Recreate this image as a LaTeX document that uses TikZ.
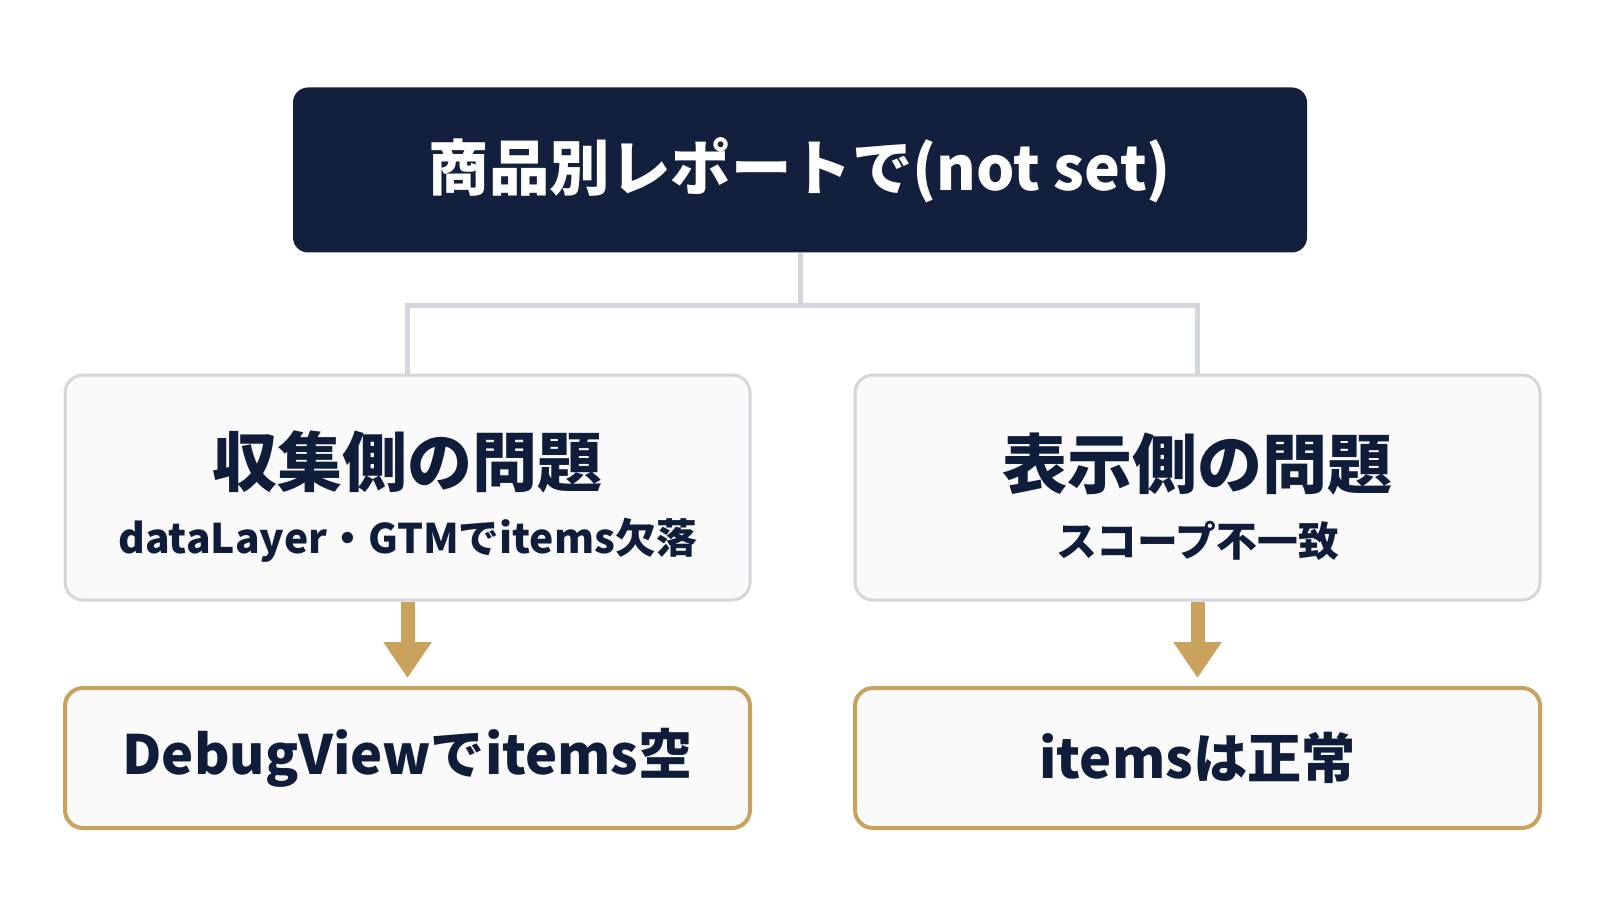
\documentclass[tikz,border=0pt]{standalone}
\usepackage{fontspec}
\setmainfont{Noto Sans CJK JP}
\usetikzlibrary{arrows.meta}

\definecolor{navy}{HTML}{13203D}
\definecolor{ink}{HTML}{0F1D3A}
\definecolor{gold}{HTML}{C9A25E}
\definecolor{edge}{HTML}{D3D6DB}
\definecolor{paper}{HTML}{FAFAFA}

\tikzset{
  topbox/.style={fill=navy, rounded corners=0.15cm, minimum width=10.14cm, minimum height=1.65cm,
    text=white, font=\bfseries\fontsize{17.2}{20}\selectfont},
  causebox/.style={draw=edge, line width=0.03cm, fill=paper, rounded corners=0.18cm,
    minimum width=6.85cm, minimum height=2.25cm, text=ink, align=center, font=\bfseries},
  checkbox/.style={draw=gold, line width=0.04cm, fill=paper, rounded corners=0.18cm,
    minimum width=6.85cm, minimum height=1.40cm, text=ink, font=\bfseries\fontsize{15.4}{18}\selectfont},
  tree/.style={draw=edge, line width=0.05cm},
  goldarrow/.style={draw=gold, line width=0.14cm, -{Triangle[width=0.46cm,length=0.36cm]}, shorten >=0.08cm}
}

\newcommand{\headtxt}[1]{{\fontsize{18.5}{22}\selectfont\rule{0pt}{0.74cm}#1}}
\newcommand{\subtxt}[1]{{\fontsize{11.6}{14}\selectfont #1}}

\begin{document}
\begin{tikzpicture}

\fill[white] (0,0) rectangle (16,9);
\useasboundingbox (0,0) rectangle (16,9);

% top
\node[topbox] (report) at (8,7.3) {商品別レポートで(not set)};

% causes
\node[causebox] (collect) at (4.075,4.125) {\headtxt{収集側の問題}\\[0.25cm]\subtxt{dataLayer・GTMでitems欠落}};
\node[causebox] (display) at (11.975,4.125) {\headtxt{表示側の問題}\\[0.25cm]\subtxt{スコープ不一致}};

% checks
\node[checkbox] (debug) at (4.075,1.42) {DebugViewでitems空};
\node[checkbox] (normal) at (11.975,1.42) {itemsは正常};

\coordinate (split) at (8,5.95);
\draw[tree] (report.south) -- (split);
\draw[tree] (split) -| (collect.north);
\draw[tree] (split) -| (display.north);

\draw[goldarrow] (collect.south) -- (debug.north);
\draw[goldarrow] (display.south) -- (normal.north);

\end{tikzpicture}
\end{document}
